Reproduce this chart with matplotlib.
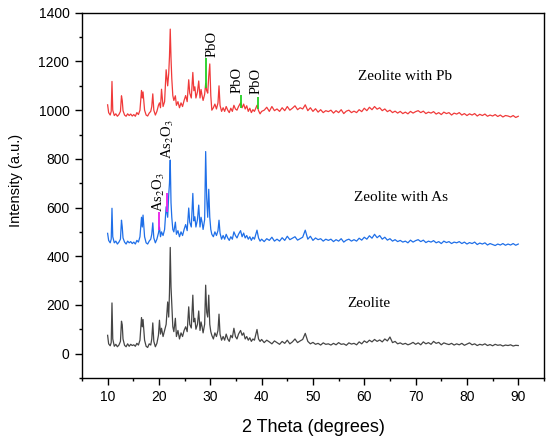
import matplotlib
matplotlib.use('Agg')
import matplotlib.pyplot as plt
from matplotlib.ticker import MultipleLocator

plt.rcParams['font.family'] = ['Liberation Sans', 'DejaVu Sans']
plt.rcParams['mathtext.fontset'] = 'stix'

# 2 theta positions (degrees), shared by the three patterns
two_theta = [
    10.0, 10.2, 10.5, 10.7, 10.85, 11.0, 11.3, 11.6, 11.9, 12.2,
    12.5, 12.7, 12.85, 13.0, 13.3, 13.6, 13.9, 14.2, 14.5, 14.8,
    15.1, 15.4, 15.7, 16.0, 16.3, 16.6, 16.75, 16.9, 17.2, 17.5,
    17.8, 18.1, 18.4, 18.6, 18.8, 19.0, 19.3, 19.6, 19.9, 20.1,
    20.3, 20.5, 20.8, 21.1, 21.4, 21.7, 21.9, 22.05, 22.2, 22.35,
    22.5, 22.7, 22.9, 23.2, 23.4, 23.7, 24.0, 24.3, 24.6, 24.9,
    25.2, 25.5, 25.8, 26.0, 26.3, 26.6, 26.8, 27.0, 27.2, 27.5,
    27.75, 28.0, 28.2, 28.4, 28.6, 28.9, 29.1, 29.3, 29.5, 29.7,
    29.9, 30.1, 30.3, 30.6, 30.9, 31.2, 31.5, 31.7, 31.9, 32.2,
    32.5, 32.8, 33.1, 33.4, 33.7, 34.0, 34.3, 34.6, 34.9, 35.2,
    35.5, 35.9, 36.2, 36.5, 36.8, 37.1, 37.4, 37.7, 38.0, 38.3,
    38.6, 39.1, 39.4, 39.7, 40.0, 40.5, 41.0, 41.5, 42.0, 42.5,
    43.0, 43.5, 44.0, 44.5, 45.0, 45.5, 46.0, 46.5, 47.0, 47.5,
    48.0, 48.5, 49.0, 49.5, 50.0, 50.5, 51.0, 51.5, 52.0, 52.5,
    53.0, 53.5, 54.0, 54.5, 55.0, 55.5, 56.0, 56.5, 57.0, 57.5,
    58.0, 58.5, 59.0, 59.5, 60.0, 60.5, 61.0, 61.5, 62.0, 62.5,
    63.0, 63.5, 64.0, 64.5, 65.0, 65.5, 66.0, 66.5, 67.0, 67.5,
    68.0, 68.5, 69.0, 69.5, 70.0, 70.5, 71.0, 71.5, 72.0, 72.5,
    73.0, 73.5, 74.0, 74.5, 75.0, 75.5, 76.0, 76.5, 77.0, 77.5,
    78.0, 78.5, 79.0, 79.5, 80.0, 80.5, 81.0, 81.5, 82.0, 82.5,
    83.0, 83.5, 84.0, 84.5, 85.0, 85.5, 86.0, 86.5, 87.0, 87.5,
    88.0, 88.5, 89.0, 89.5, 90.0,
]

# Zeolite
zeolite = [
    75, 40, 32, 45, 208, 60, 30, 38, 28, 35,
    50, 133, 118, 60, 34, 28, 40, 30, 38, 33,
    36, 30, 42, 35, 55, 148, 110, 140, 55, 30,
    25, 40, 35, 60, 126, 50, 28, 42, 75, 137,
    80, 104, 70, 95, 120, 212, 150, 250, 436, 274,
    200, 110, 90, 145, 70, 95, 60, 85, 70, 95,
    110, 90, 192, 120, 105, 240, 130, 145, 100, 120,
    175, 95, 130, 110, 85, 120, 281, 170, 150, 240,
    120, 90, 75, 60, 85, 70, 95, 162, 80, 55,
    70, 55, 80, 60, 50, 75, 65, 104, 70, 60,
    80, 95, 75, 85, 60, 70, 55, 65, 50, 60,
    55, 99, 60, 50, 58, 45, 55, 48, 40, 52,
    45, 38, 50, 42, 55, 40, 48, 60, 45, 52,
    58, 83, 50, 40, 46, 38, 42, 35, 44, 38,
    40, 35, 42, 36, 45, 38, 40, 34, 44, 39,
    42, 36, 48, 40, 52, 45, 55, 48, 58, 50,
    56, 48, 60, 52, 68, 45, 50, 40, 44, 38,
    42, 36, 40, 46, 38, 44, 36, 48, 40, 45,
    38, 50, 42, 46, 36, 44, 40, 37, 42, 35,
    40, 36, 42, 34, 39, 44, 36, 40, 33, 38,
    35, 40, 33, 37, 32, 38, 34, 36, 31, 35,
    33, 36, 31, 34, 33,
]

# Zeolite with As
zeolite_as = [
    494, 465, 455, 470, 597, 480, 455, 462, 450, 458,
    470, 548, 520, 475, 458, 450, 462, 455, 460, 452,
    458, 450, 465, 458, 480, 560, 520, 569, 480, 455,
    450, 462, 470, 490, 537, 475, 455, 470, 495, 520,
    480, 500, 485, 510, 603, 560, 651, 700, 795, 620,
    560, 510, 500, 540, 490, 505, 480, 500, 485, 510,
    530, 505, 598, 540, 520, 658, 545, 562, 520, 550,
    610, 520, 560, 540, 510, 550, 830, 640, 560, 675,
    560, 510, 490, 480, 500, 485, 505, 548, 495, 470,
    485, 470, 490, 475, 465, 480, 470, 500, 485, 475,
    490, 505, 480, 495, 475, 485, 470, 480, 465, 478,
    470, 507, 475, 462, 470, 460, 472, 465, 478, 462,
    470, 462, 476, 465, 482, 468, 474, 480, 466, 472,
    478, 507, 470, 482, 465, 475, 468, 472, 462, 470,
    465, 470, 460, 468, 462, 472, 458, 466, 470, 462,
    468, 462, 474, 466, 478, 470, 484, 474, 490, 476,
    485, 470, 478, 466, 472, 462, 468, 460, 465, 458,
    462, 455, 466, 458, 464, 468, 460, 466, 456, 462,
    458, 464, 455, 460, 452, 462, 456, 460, 452, 458,
    455, 460, 452, 458, 450, 456, 452, 458, 448, 454,
    450, 455, 446, 452, 448, 444, 450, 446, 452, 445,
    450, 446, 452, 445, 450,
]

# Zeolite with Pb
zeolite_pb = [
    1022, 990, 980, 995, 1118, 1000, 978, 985, 975, 982,
    995, 1059, 1040, 998, 980, 975, 985, 978, 984, 976,
    982, 975, 990, 982, 1000, 1081, 1050, 1075, 1000, 980,
    976, 988, 995, 1015, 1067, 1000, 980, 995, 1020, 1030,
    1010, 1086, 1015, 1035, 1166, 1100, 1150, 1220, 1333, 1214,
    1130, 1060, 1040, 1059, 1020, 1035, 1010, 1030, 1015, 1040,
    1060, 1035, 1125, 1070, 1050, 1155, 1080, 1096, 1050, 1075,
    1120, 1050, 1085, 1060, 1040, 1065, 1110, 1080, 1070, 1140,
    1190, 1060, 1000, 1010, 1025, 1005, 1030, 1100, 1020, 995,
    1010, 995, 1015, 1000, 990, 1008, 995, 1020, 1005, 1000,
    1015, 1030, 1010, 1025, 1005, 1018, 995, 1008, 990, 1002,
    995, 1020, 998, 985, 995, 1000, 1012, 995, 1015, 998,
    1005, 995, 1010, 998, 1015, 1000, 1008, 1018, 1002, 1010,
    1005, 1022, 998, 1010, 995, 1006, 992, 1002, 990, 998,
    994, 1000, 988, 998, 990, 1002, 986, 996, 1000, 990,
    996, 990, 1002, 994, 1008, 998, 1012, 1002, 1015, 1004,
    1010, 998, 1005, 994, 1000, 990, 996, 988, 995, 986,
    992, 985, 995, 988, 994, 998, 990, 996, 986, 992,
    988, 994, 984, 990, 982, 992, 986, 990, 980, 988,
    984, 990, 980, 986, 978, 985, 980, 986, 976, 983,
    978, 984, 975, 980, 976, 982, 974, 980, 972, 978,
    976, 972, 978, 970, 975,
]

# phase markers: position, line bottom, line top
pbo_pos = [29.2, 36.0, 39.3]
pbo_low = [1090, 1010, 1005]
pbo_high = [1215, 1064, 1055]
as_pos = [20.1, 21.6]
as_low = [507, 582]
as_high = [582, 660]

# グラフの作成
fig = plt.figure(figsize=(5.5, 4.42), dpi=100)
ax = fig.add_axes([0.149, 0.145, 0.840, 0.826])

ax.plot(two_theta, zeolite, color='#454545', lw=0.9)
ax.plot(two_theta, zeolite_as, color='#1f6fe8', lw=0.9)
ax.plot(two_theta, zeolite_pb, color='#f03a3a', lw=0.9)

ax.vlines(pbo_pos, pbo_low, pbo_high, color='#22d022', lw=1.3)
ax.vlines(as_pos, as_low, as_high, color='#e81ee8', lw=1.3)

serif = ['Liberation Serif', 'DejaVu Serif']
for x, y in zip([30.3, 35.3, 39.0], [1218, 1071, 1067]):
    ax.text(x, y, 'PbO', rotation=90, ha='center', va='bottom',
            fontsize=10.5, family=serif)
for x, y in zip([19.95, 21.8], [582, 800]):
    ax.text(x, y, r'As$_2$O$_3$', rotation=90, ha='center', va='bottom',
            fontsize=10.5, family=serif)

ax.text(58.8, 1137, 'Zeolite with Pb', fontsize=11, family=serif, va='center')
ax.text(58.0, 643, 'Zeolite with As', fontsize=11, family=serif, va='center')
ax.text(56.6, 207, 'Zeolite', fontsize=11, family=serif, va='center')

ax.set_xlim(5, 95)
ax.set_ylim(-100, 1400)
ax.xaxis.set_major_locator(MultipleLocator(10))
ax.xaxis.set_minor_locator(MultipleLocator(5))
ax.yaxis.set_major_locator(MultipleLocator(200))
ax.yaxis.set_minor_locator(MultipleLocator(100))
ax.set_xticks(range(10, 91, 10))
ax.tick_params(which='major', direction='out', length=5, width=1, labelsize=10, pad=4)
ax.tick_params(which='minor', direction='out', length=2.5, width=1)
for s in ax.spines.values():
    s.set_linewidth(1.0)

ax.set_xlabel('2 Theta (degrees)', fontsize=13)
ax.set_ylabel('Intensity (a.u.)', fontsize=10.5)
ax.xaxis.set_label_coords(0.5, -0.112)
ax.yaxis.set_label_coords(-0.128, 0.54)

fig.savefig('out.png', dpi=100)
